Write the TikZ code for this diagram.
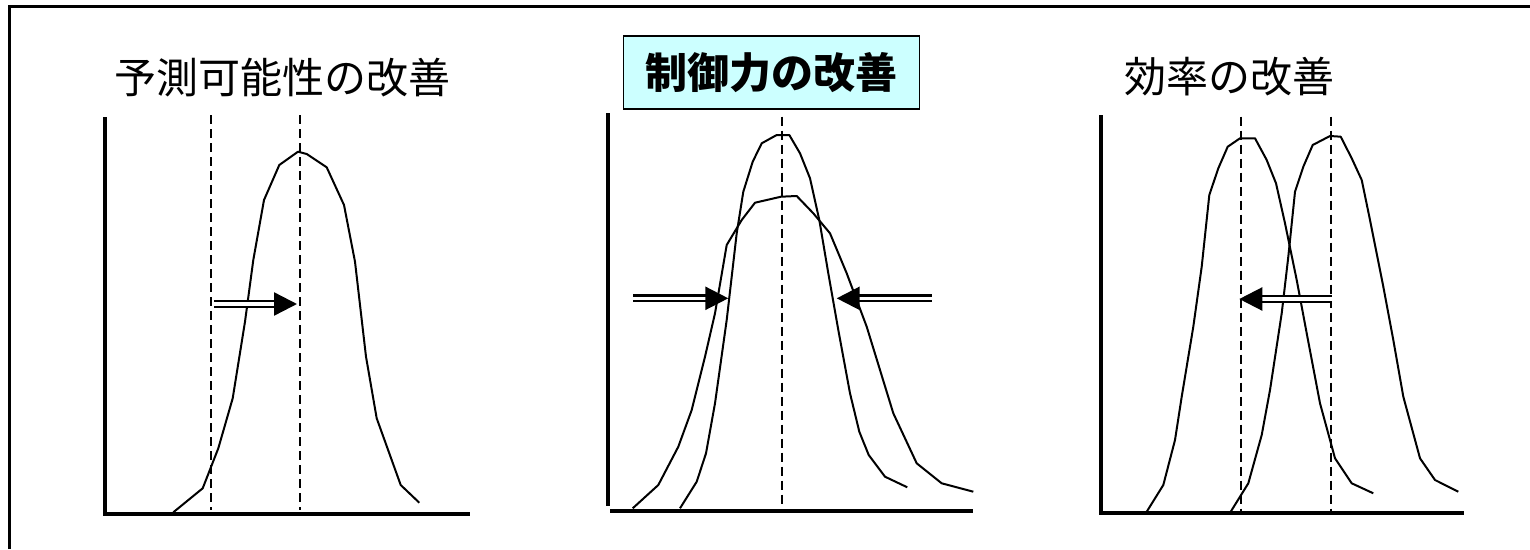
\documentclass[tikz,border=0pt]{standalone}
\usepackage{fontspec}
\newfontfamily\jp{Noto Sans CJK JP}
\usetikzlibrary{arrows.meta}
\definecolor{boxcyan}{RGB}{204,255,255}
\begin{document}
\begin{tikzpicture}[x=1pt,y=-1pt,
  axis/.style={line width=4pt},
  curve/.style={line width=2pt,line join=round},
  guide/.style={line width=2pt,dash pattern=on 9pt off 5pt},
  movearrow/.style={double,double distance=3.2pt,line width=2.4pt,-{Triangle[length=23pt,width=23pt]}},
  title/.style={font=\jp\fontsize{42}{48}\selectfont,inner sep=0pt}]
\useasboundingbox (0,0) rectangle (1530,549);
\draw[line width=3pt] (9,549) -- (9,6) -- (1530,6);

\begin{scope}[xshift=105pt]
\node[title] (t1) at (177.5,78) {予測可能性の改善};
\draw[axis] (0,117) -- (0,514) -- (365,514);
\draw[guide] (106,115) -- (106,510);
\draw[guide] (195,115) -- (195,510);
\draw[curve] plot coordinates {(68.3,512.3) (97.7,488.3) (113.3,448.3) (127.7,398.3) (140,321.7) (148.3,260) (159,200) (174.3,165) (193,151.7) (201.7,154) (221.7,167.3) (239,205) (250,261.7) (261,356.7) (271.7,418.3) (295.7,485) (314.3,502.7)};
\coordinate (a1) at (109,304);
\coordinate (b1) at (192,304);
\draw[movearrow] (a1) -- (b1);
\end{scope}

\begin{scope}[xshift=608pt]
\node[title,font=\jp\bfseries\fontsize{42}{48}\selectfont,draw,line width=1.5pt,fill=boxcyan,minimum width=296pt,minimum height=73pt] (t2) at (163.3,72.7) {制御力の改善};
\draw[axis] (0,113) -- (0,506);
\draw[axis] (2,511) -- (365,511);
\draw[guide] (174,116.7) -- (174,506.7);
\draw[curve] plot coordinates {(72,508.3) (88.7,481.7) (98,453.3) (107,403.3) (118.7,320) (128.7,233.3) (135.3,191.7) (144.7,161.7) (153.7,143.3) (168.7,135) (181.3,135) (192,153.3) (202,178.3) (211.3,220) (220.3,273.3) (230.3,330) (242,393.3) (251.3,431.7) (260.7,455) (277,476.7) (299.3,487.3)};
\draw[curve] plot coordinates {(24.7,508.3) (50.3,485) (70.3,446.7) (83.7,410) (97,356.7) (107,313.3) (118.7,245) (133.7,220) (147,202.7) (173,196.7) (188.7,196) (205.3,213.3) (222,233.3) (238.7,273.3) (258.7,326.7) (272,370) (285.3,413.3) (308.7,463.3) (333.7,483.3) (365.3,491.7)};
\coordinate (a2) at (25.3,298.3);
\coordinate (b2) at (120.3,298.3);
\coordinate (c2) at (323.7,298.3);
\coordinate (d2) at (228.7,298.3);
\draw[movearrow] (a2) -- (b2);
\draw[movearrow] (c2) -- (d2);
\end{scope}

\begin{scope}[xshift=1101pt]
\node[title] (t3) at (128,77) {効率の改善};
\draw[axis] (0,115) -- (0,513.3) -- (363.3,513.3);
\draw[guide] (139.7,116.7) -- (139.7,511.7);
\draw[guide] (229.7,116.7) -- (229.7,511.7);
\draw[curve] plot coordinates {(45.7,511.7) (62.3,485) (74,440) (80.7,396.7) (92.3,326.7) (100.7,266.7) (108.3,195) (117.3,168.3) (126.7,146.7) (139,138.3) (154,138.3) (165.7,160) (175,183.3) (184,223.3) (195.7,280) (205.7,333.3) (219,403.3) (234,458.3) (250.7,483.3) (272.3,493.3)};
\draw[curve] plot coordinates {(129.7,511.7) (147.3,483.3) (160.7,435) (169,390) (180.7,313.3) (187.3,256.7) (194,191.7) (202.3,166.7) (211.7,145) (229,136) (239.7,136.7) (250.7,158.3) (260.7,180) (269,220) (282.3,286.7) (292.3,340) (302.3,396.7) (319,458.3) (334,480) (357.3,491.7)};
\coordinate (a3) at (230.7,299);
\coordinate (b3) at (138.3,299);
\draw[movearrow] (a3) -- (b3);
\end{scope}

\end{tikzpicture}
\end{document}
